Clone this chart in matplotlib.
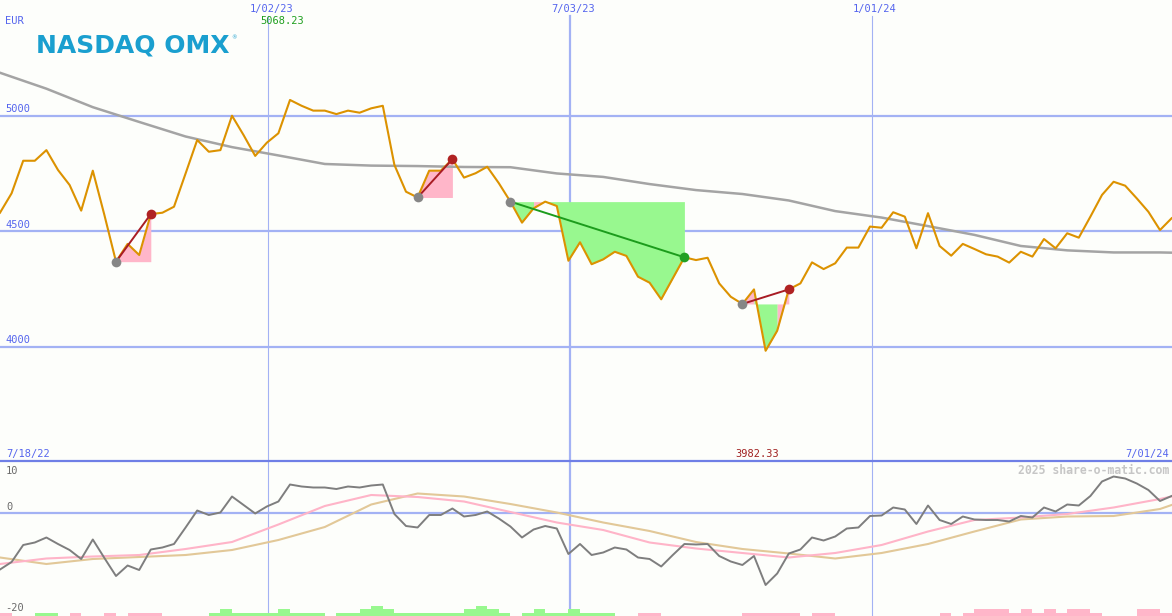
import numpy as np
import pandas as pd
import matplotlib
matplotlib.use('Agg')
import matplotlib.pyplot as plt
import matplotlib.dates as mdates
from matplotlib.lines import Line2D

# ---------------- data ----------------
price = [4580, 4664, 4805, 4805, 4851, 4765, 4700, 4589, 4762, 4570,
         4368, 4445, 4397, 4574, 4580, 4606, 4750, 4895, 4844, 4851,
         5000, 4916, 4826, 4883, 4924, 5068.23, 5043, 5022, 5022, 5007,
         5022, 5013, 5032, 5043, 4787, 4671, 4646, 4762, 4762, 4812,
         4732, 4751, 4779, 4708, 4628, 4537, 4599, 4628, 4609, 4372,
         4452, 4357, 4378, 4411, 4393, 4303, 4277, 4205, 4296, 4387,
         4375, 4385, 4274, 4216, 4185, 4248, 3982.33, 4069, 4248, 4274,
         4365, 4336, 4361, 4429, 4429, 4520, 4515, 4582, 4563, 4426,
         4578, 4436, 4394, 4445, 4423, 4400, 4390, 4364, 4411, 4390,
         4466, 4426, 4491, 4472, 4563, 4657, 4714, 4697, 4642, 4584,
         4505, 4556]

ma_weeks = [0, 4, 8, 12, 16, 20, 24, 28, 32, 36, 40, 44, 48, 52, 56, 60,
            64, 68, 72, 76, 80, 84, 88, 92, 96, 100, 101]
ma_long = [5186, 5117, 5037, 4973, 4910, 4864, 4828, 4791, 4784, 4782,
           4778, 4777, 4750, 4735, 4704, 4678, 4661, 4633, 4587, 4559,
           4522, 4484, 4436, 4417, 4408, 4408, 4407]

osc = [-11.3, -9.8, -6.4, -5.9, -4.9, -6.2, -7.4, -9.2, -5.3, -9.0,
       -12.6, -10.5, -11.4, -7.3, -6.9, -6.2, -2.9, 0.5, -0.4, 0.1,
       3.3, 1.6, -0.1, 1.3, 2.3, 5.7, 5.3, 5.1, 5.1, 4.8,
       5.3, 5.1, 5.5, 5.7, -0.2, -2.6, -2.9, -0.4, -0.4, 0.9,
       -0.7, -0.4, 0.3, -1.1, -2.7, -4.9, -3.3, -2.6, -3.1, -8.2,
       -6.2, -8.4, -7.9, -6.9, -7.3, -8.9, -9.2, -10.7, -8.4, -6.2,
       -6.3, -6.2, -8.6, -9.7, -10.4, -8.6, -14.4, -12.1, -8.1, -7.3,
       -4.9, -5.5, -4.7, -3.1, -2.9, -0.6, -0.5, 1.1, 0.7, -2.2,
       1.5, -1.4, -2.2, -0.7, -1.3, -1.4, -1.4, -1.7, -0.6, -0.9,
       1.1, 0.3, 1.7, 1.5, 3.4, 6.3, 7.3, 6.9, 5.9, 4.6,
       2.4, 3.4]
osc_fast = [-10.2, -9.1, -8.7, -8.4, -7.2, -5.8, -2.3, 1.4, 3.6, 3.2,
            2.3, 0.2, -1.9, -3.4, -5.9, -7.1, -8.0, -8.9, -8.0, -6.4,
            -3.7, -1.4, -0.9, -0.2, 1.1, 2.8, 3.3]
osc_slow = [-8.9, -10.2, -9.2, -8.8, -8.4, -7.4, -5.4, -2.8, 1.7, 3.9,
            3.3, 1.8, 0.1, -1.9, -3.6, -5.8, -7.2, -8.1, -9.1, -8.0,
            -6.2, -3.7, -1.3, -0.7, -0.6, 0.8, 1.6]

hist = [-1, 0, 0, 1, 1, 0, -1, 0, 0, -1,
        0, -1, -1, -1, 0, 0, 0, 0, 1, 2,
        1, 1, 1, 1, 2, 1, 1, 1, 0, 1,
        1, 2, 3, 2, 1, 1, 1, 1, 1, 1,
        2, 3, 2, 1, 0, 1, 2, 1, 1, 2,
        1, 1, 1, 0, 0, -1, -1, 0, 0, 0,
        0, 0, 0, 0, -1, -1, -1, -1, -1, 0,
        -1, -1, 0, 0, 0, 0, 0, 0, 0, 0,
        0, -1, 0, -1, -2, -2, -2, -1, -2, -1,
        -2, -1, -2, -2, -1, 0, 0, 0, -2, -2,
        -1, -1]

# swing patterns: (start week, end week)
swings = [(10, 13), (36, 39), (44, 59), (64, 68)]

date_lines = ['2023-01-02', '2023-07-03', '2024-01-01']
date_labels = ['1/02/23', '7/03/23', '1/01/24']
hline_vals = [5000, 4500, 4000]
start_label, end_label = '7/18/22', '7/01/24'
max_label, min_label = '5068.23', '3982.33'

# ---------------- figure ----------------
W, H = 1172, 616
fig = plt.figure(figsize=(W / 100, H / 100), dpi=100)
bg = '#fdfefb'
fig.patch.set_facecolor(bg)

dates = pd.date_range('2022-07-24', periods=len(price), freq='7D')
xs = mdates.date2num(dates)
x0 = xs[0]
xend = x0 + 7 * W / 11.6
ma_x = x0 + 7 * np.array(ma_weeks)

sep_frac = 155 / 616
ax = fig.add_axes([0, sep_frac, 1, 1 - sep_frac])
axb = fig.add_axes([0, 0, 1, sep_frac])
for a in (ax, axb):
    a.set_axis_off()
    a.set_xlim(x0, xend)
ax.set_ylim(3505, 5501)
axb.set_ylim(-20.6, 10.4)

grid_c = '#a3b2f4'
for v in hline_vals:
    ax.axhline(v, color=grid_c, lw=1.6, zorder=1)
dl_num = mdates.date2num(pd.to_datetime(date_lines))
for k, d in enumerate(dl_num):
    lw = 1.6 if k == 1 else 0.8
    ax.axvline(d, ymin=0, ymax=(461 - 16) / 461, color=grid_c, lw=lw, zorder=1)
    axb.axvline(d, color=grid_c, lw=lw, zorder=1)
axb.axhline(0, color=grid_c, lw=1.6, zorder=1)

# swing fills (contiguous runs of the same colour merged)
pink, green = '#ffb6c9', '#98f88f'
p = np.array(price, dtype=float)
for s, e in swings:
    level = p[s]
    cols = [pink if p[j + 1] >= level - 0.5 else green for j in range(s, e)]
    a = s
    while a < e:
        b = a
        while b + 1 < e and cols[b + 1 - s] == cols[a - s]:
            b += 1
        seg = slice(a, b + 2)
        ax.fill_between(xs[seg], level, p[seg], color=cols[a - s], lw=0,
                        antialiased=False, zorder=2)
        a = b + 1

# moving average & price
ax.plot(ma_x, ma_long, color='#a4a4a4', lw=1.8, zorder=3)
ax.plot(xs, p, color='#dc9200', lw=1.5, zorder=4)

# swing lines & markers
for s, e in swings:
    rising = p[e] > p[s]
    lc = '#a81c24' if rising else '#1c9c1c'
    ax.plot([xs[s], xs[e]], [p[s], p[e]], color=lc, lw=1.4, zorder=5)
    ax.plot(xs[s], p[s], 'o', ms=7, color='#868686', zorder=6, mec='none')
    ax.plot(xs[e], p[e], 'o', ms=7, color=('#b02222' if rising else '#22a022'),
            zorder=6, mec='none')

# bottom panel
hx = x0 + 7 * np.arange(len(hist))
hv = np.array(hist)
bcol = ['#98f88f' if v > 0 else '#ffb6c9' for v in hv]
axb.bar(hx, np.abs(hv) * 0.66, width=7, bottom=-20.6, align='edge',
        color=bcol, lw=0, antialiased=False, zorder=2)
axb.plot(ma_x, osc_slow, color='#e2c898', lw=1.5, zorder=3)
axb.plot(ma_x, osc_fast, color='#ffb4c8', lw=1.5, zorder=3)
axb.plot(xs, osc, color='#7e7e7e', lw=1.4, zorder=4)

# separator
fig.add_artist(Line2D([0, 1], [sep_frac, sep_frac], transform=fig.transFigure,
                      color='#6f7fe6', lw=1.6))

# ---------------- text ----------------
mono = 'DejaVu Sans Mono'
blue_t = '#5565ee'


def ftext(px, py, s, **kw):
    kw.setdefault('family', mono)
    kw.setdefault('fontsize', 7.5)
    kw.setdefault('va', 'center')
    fig.text(px / W, 1 - py / H, s, **kw)


ftext(5, 21, 'EUR', color=blue_t)
for d, lab in zip(dl_num, date_labels):
    px = (d - x0) / (xend - x0) * W
    ftext(px + 3, 9, lab, color=blue_t, ha='center')
ftext(282.5, 21, max_label, color='#1f9f1f', ha='center')
for v in hline_vals:
    py = (5501 - v) / (5501 - 3505) * 461
    ftext(5, py - 6.5, str(v), color=blue_t)
ftext(6, 454, start_label, color=blue_t)
ftext(757.5, 454, min_label, color='#a02020', ha='center')
ftext(1169, 454, end_label, color=blue_t, ha='right')
ftext(1169, 471, '2025 share-o-matic.com', color='#c6c6c6', ha='right',
      fontsize=8.3, fontweight='bold')
ftext(6, 471, '10', color='#6a6a6a')
ftext(6, 507, '0', color='#6a6a6a')
ftext(5, 608, '-20', color='#6a6a6a')

# logo
fig.text(36 / W, 1 - 45 / H, 'NASDAQ OMX', color='#1a9fcf', fontsize=18,
         fontweight='heavy', family='DejaVu Sans', va='center', ha='left')
fig.text(231 / W, 1 - 38 / H, '®', color='#1a9fcf', fontsize=4,
         family='DejaVu Sans', va='center', ha='left')

fig.savefig('out.png', dpi=100, facecolor=bg)
